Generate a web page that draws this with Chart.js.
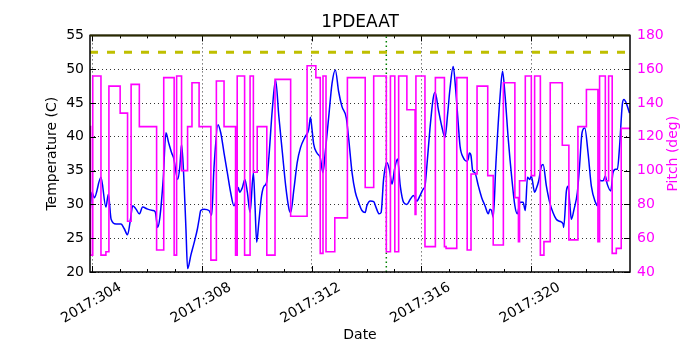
<!DOCTYPE html>
<html>
<head>
<meta charset="utf-8">
<script src="https://cdn.jsdelivr.net/npm/chart.js@4.4.1/dist/chart.umd.min.js"></script>
<style>
  html, body { margin: 0; padding: 0; background: #fff; }
  #wrap { width: 700px; height: 350px; }
</style>
</head>
<body>
<div id="wrap"><canvas id="chart" width="700" height="350"></canvas></div>
<script>
// x range (day of year 2017) and tick days
const xStart = 303.91;
const xEnd = 323.61;
const xTickDays = [304, 308, 312, 316, 320];
const tempTicks = [20, 25, 30, 35, 40, 45, 50, 55];
const pitchTicks = [40, 60, 80, 100, 120, 140, 160, 180];

// temperature (C), blue line
const tempDays = [
  303.91, 303.98, 304.07, 304.31, 304.49, 304.58, 304.68, 304.86, 305.04, 305.16,
  305.28, 305.38, 305.47, 305.59, 305.71, 305.83, 306.01, 306.20, 306.29, 306.38,
  306.46, 306.58, 306.68, 306.78, 306.89, 306.96, 307.11, 307.19, 307.25, 307.33,
  307.41, 307.47, 307.59, 307.70, 307.83, 307.89, 307.95, 308.07, 308.25, 308.35,
  308.43, 308.58, 308.68, 308.80, 308.92, 309.04, 309.16, 309.22, 309.32, 309.37,
  309.47, 309.56, 309.65, 309.75, 309.87, 309.93, 309.99, 310.07, 310.17, 310.26,
  310.35, 310.44, 310.56, 310.68, 310.80, 310.93, 311.05, 311.17, 311.23, 311.35,
  311.47, 311.59, 311.77, 311.89, 311.95, 312.01, 312.07, 312.19, 312.31, 312.41,
  312.49, 312.62, 312.74, 312.86, 312.98, 313.10, 313.26, 313.35, 313.47, 313.59,
  313.71, 313.83, 313.95, 314.01, 314.14, 314.26, 314.34, 314.46, 314.53, 314.62,
  314.74, 314.83, 314.93, 315.02, 315.13, 315.23, 315.35, 315.47, 315.60, 315.71,
  315.83, 315.95, 316.07, 316.13, 316.19, 316.31, 316.43, 316.50, 316.62, 316.74,
  316.86, 316.96, 317.04, 317.16, 317.25, 317.35, 317.41, 317.53, 317.65, 317.71,
  317.75, 317.81, 317.87, 317.95, 318.08, 318.20, 318.32, 318.44, 318.50, 318.56,
  318.62, 318.72, 318.87, 318.96, 319.05, 319.17, 319.29, 319.41, 319.50, 319.60,
  319.71, 319.79, 319.87, 319.95, 320.01, 320.13, 320.19, 320.28, 320.38, 320.44,
  320.56, 320.68, 320.80, 320.92, 321.04, 321.17, 321.19, 321.29, 321.35, 321.41,
  321.47, 321.57, 321.69, 321.77, 321.86, 321.96, 322.08, 322.20, 322.35, 322.42,
  322.48, 322.54, 322.63, 322.71, 322.78, 322.91, 322.99, 323.08, 323.15, 323.23,
  323.33, 323.39, 323.49, 323.59
];
const tempValues = [
  28.8, 31.8, 31.0, 34.0, 29.6, 31.5, 27.8, 27.1, 27.1, 26.4,
  25.5, 27.6, 29.8, 29.3, 28.6, 29.6, 29.3, 29.1, 28.9, 26.6,
  28.1, 33.7, 40.6, 39.1, 37.6, 36.9, 33.7, 35.7, 38.9, 34.2,
  26.4, 20.5, 22.5, 24.2, 26.4, 27.8, 29.1, 29.3, 29.1, 28.4,
  35.2, 41.8, 40.6, 37.6, 34.7, 31.8, 29.8, 30.3, 32.5, 31.8,
  32.5, 33.7, 31.8, 28.8, 34.7, 29.8, 24.4, 27.4, 31.3, 32.7,
  33.2, 37.2, 44.0, 48.4, 43.0, 37.6, 32.7, 29.3, 28.8, 32.3,
  36.2, 38.4, 40.1, 41.1, 42.9, 41.1, 38.9, 37.6, 36.9, 34.7,
  37.6, 43.0, 47.9, 49.9, 46.7, 44.5, 42.8, 39.6, 34.7, 31.8,
  30.3, 29.1, 28.8, 29.8, 30.5, 30.4, 29.6, 28.6, 28.8, 33.7,
  36.2, 35.2, 33.0, 35.2, 36.7, 32.7, 30.3, 30.0, 30.8, 31.3,
  30.5, 31.3, 32.3, 32.7, 35.2, 41.1, 45.7, 46.6, 44.0, 41.6,
  39.9, 43.5, 47.0, 50.4, 47.0, 41.6, 38.6, 36.9, 36.4, 36.7,
  37.6, 37.2, 35.0, 34.7, 32.7, 31.0, 29.8, 28.6, 29.3, 29.1,
  28.1, 36.2, 46.0, 49.7, 46.2, 39.6, 34.2, 29.8, 28.6, 30.3,
  30.3, 29.1, 34.0, 33.7, 34.2, 31.8, 32.3, 33.5, 35.7, 35.9,
  32.7, 30.3, 28.8, 27.8, 27.5, 27.1, 26.6, 32.0, 32.7, 30.3,
  27.8, 29.3, 31.8, 35.7, 40.6, 41.3, 37.6, 32.7, 30.3, 29.8,
  33.7, 33.5, 33.5, 34.2, 33.0, 32.0, 34.7, 35.2, 35.2, 38.6,
  44.8, 45.5, 44.8, 43.5
];

// pitch (deg), magenta step line: value holds from each day until the next
const pitchDays = [
  303.91, 303.93, 304.01, 304.31, 304.49, 304.60, 305.01, 305.28, 305.41, 305.71,
  306.34, 306.60, 306.98, 307.07, 307.25, 307.47, 307.63, 307.89, 308.32, 308.52,
  308.80, 309.22, 309.28, 309.55, 309.75, 309.87, 310.01, 310.36, 310.66, 311.23,
  311.83, 312.15, 312.31, 312.41, 312.52, 312.84, 313.30, 313.95, 314.26, 314.72,
  314.87, 315.03, 315.17, 315.47, 315.77, 315.80, 316.13, 316.51, 316.84, 316.90,
  317.29, 317.67, 317.81, 318.03, 318.42, 318.62, 318.99, 319.41, 319.54, 319.58,
  319.79, 320.01, 320.13, 320.34, 320.47, 320.70, 321.14, 321.38, 321.71, 322.02,
  322.44, 322.50, 322.71, 322.83, 322.96, 323.11, 323.29, 323.61
];
const pitchValues = [
  126, 50, 156, 50, 52, 150, 134, 70, 151, 126,
  53, 155, 50, 156, 100, 126, 152, 126, 47, 153,
  126, 50, 156, 50, 156, 99, 126, 50, 154, 73,
  162, 155, 51, 156, 52, 72, 155, 90, 156, 52,
  156, 52, 156, 136, 74, 156, 55, 155, 55, 54,
  155, 53, 98, 150, 97, 56, 152, 84, 58, 94,
  156, 97, 156, 50, 58, 152, 115, 59, 126, 148,
  58, 156, 94, 156, 51, 54, 125, 125
];

// reference lines
const tempLimit = 52.5;
const markerDay = 314.72;

const FONT = 'DejaVu Sans';

const tempPoints = tempDays.map((d, i) => ({ x: d, y: tempValues[i] }));
const pitchPoints = pitchDays.map((d, i) => ({ x: d, y: pitchValues[i] }));

// inward tick marks, the axes frame and the right axis title (read bottom to top)
const frameTicks = {
  id: 'frameTicks',
  afterDraw(chart) {
    const { ctx, chartArea: a, scales } = chart;
    const xs = scales.x, ys = scales.yTemp;
    ctx.save();
    ctx.strokeStyle = '#000';
    ctx.lineWidth = 1;
    ctx.beginPath();
    for (let d = Math.ceil(xs.min); d <= xs.max; d++) {
      const px = Math.round(xs.getPixelForValue(d)) + 0.5;
      const len = xTickDays.includes(d) ? 6 : 3;
      ctx.moveTo(px, a.bottom); ctx.lineTo(px, a.bottom - len);
      ctx.moveTo(px, a.top); ctx.lineTo(px, a.top + len);
    }
    tempTicks.forEach(v => {
      const py = Math.round(ys.getPixelForValue(v)) + 0.5;
      ctx.moveTo(a.left, py); ctx.lineTo(a.left + 6, py);
      ctx.moveTo(a.right, py); ctx.lineTo(a.right - 6, py);
    });
    ctx.stroke();
    ctx.lineWidth = 1.5;
    ctx.strokeRect(a.left, a.top, a.right - a.left, a.bottom - a.top);
    ctx.lineWidth = 2;
    ctx.strokeStyle = '#2a2a00';
    ctx.beginPath();
    ctx.moveTo(a.left, a.top); ctx.lineTo(a.right, a.top);
    ctx.stroke();

    ctx.translate(673, (a.top + a.bottom) / 2);
    ctx.rotate(-Math.PI / 2);
    ctx.fillStyle = '#ff00ff';
    ctx.font = '14px "' + FONT + '"';
    ctx.textAlign = 'center';
    ctx.textBaseline = 'middle';
    ctx.fillText('Pitch (deg)', 0, 0);
    ctx.restore();
  }
};

const ctx = document.getElementById('chart').getContext('2d');
const chart = new Chart(ctx, {
  type: 'line',
  data: {
    datasets: [{
      label: 'Pitch',
      data: pitchPoints,
      yAxisID: 'yPitch',
      borderColor: '#ff00ff',
      borderWidth: 1.6,
      stepped: true,
      pointRadius: 0,
      order: 0
    }, {
      label: 'Temperature',
      data: tempPoints,
      yAxisID: 'yTemp',
      borderColor: '#0000ff',
      borderWidth: 1.5,
      cubicInterpolationMode: 'monotone',
      pointRadius: 0,
      order: 1
    }, {
      label: 'Limit',
      data: [{ x: xStart, y: tempLimit }, { x: xEnd, y: tempLimit }],
      yAxisID: 'yTemp',
      borderColor: '#bfbf00',
      borderWidth: 3,
      borderDash: [8, 9],
      pointRadius: 0,
      order: 2
    }, {
      label: 'Marker',
      data: [{ x: markerDay, y: 20 }, { x: markerDay, y: 55 }],
      yAxisID: 'yTemp',
      borderColor: '#008000',
      borderWidth: 1.5,
      borderDash: [1.5, 3],
      pointRadius: 0,
      order: 3
    }]
  },
  options: {
    responsive: false,
    animation: false,
    devicePixelRatio: 1,
    layout: { padding: { left: 20, right: 0, top: 0, bottom: 0 } },
    plugins: {
      legend: { display: false },
      tooltip: { enabled: false },
      title: {
        display: true,
        text: '1PDEAAT',
        color: '#000',
        font: { family: FONT, size: 17, weight: 'normal' },
        padding: { top: 12, bottom: 3 }
      }
    },
    scales: {
      x: {
        type: 'linear',
        min: xStart,
        max: xEnd,
        afterBuildTicks: s => { s.ticks = xTickDays.map(v => ({ value: v })); },
        afterFit: s => { s.height = 78; },
        grid: { color: '#000', lineWidth: 0.8, drawTicks: false },
        border: { display: false, dash: [1, 3] },
        ticks: {
          autoSkip: false,
          minRotation: 30,
          maxRotation: 30,
          padding: 7,
          labelOffset: 28,
          color: '#000',
          font: { family: FONT, size: 14 },
          callback: v => '2017:' + v
        },
        title: {
          display: true,
          text: 'Date',
          color: '#000',
          font: { family: FONT, size: 14 },
          padding: { top: 0, bottom: 6 }
        }
      },
      yTemp: {
        position: 'left',
        min: 20,
        max: 55,
        afterBuildTicks: s => { s.ticks = tempTicks.map(v => ({ value: v })); },
        afterFit: s => { s.width = 70; },
        grid: { color: '#000', lineWidth: 0.8, drawTicks: false },
        border: { display: false, dash: [1, 3] },
        ticks: { padding: 6, color: '#000', font: { family: FONT, size: 14 } },
        title: {
          display: true,
          text: 'Temperature (C)',
          color: '#000',
          font: { family: FONT, size: 14 },
          padding: { top: 24, bottom: 0 }
        }
      },
      yPitch: {
        position: 'right',
        min: 40,
        max: 180,
        afterBuildTicks: s => { s.ticks = pitchTicks.map(v => ({ value: v })); },
        afterFit: s => { s.width = 70; },
        grid: { drawOnChartArea: false, drawTicks: false },
        border: { display: false },
        ticks: { padding: 7, color: '#ff00ff', font: { family: FONT, size: 14 } },
        title: { display: false }
      }
    }
  },
  plugins: [frameTicks]
});
</script>
</body>
</html>
